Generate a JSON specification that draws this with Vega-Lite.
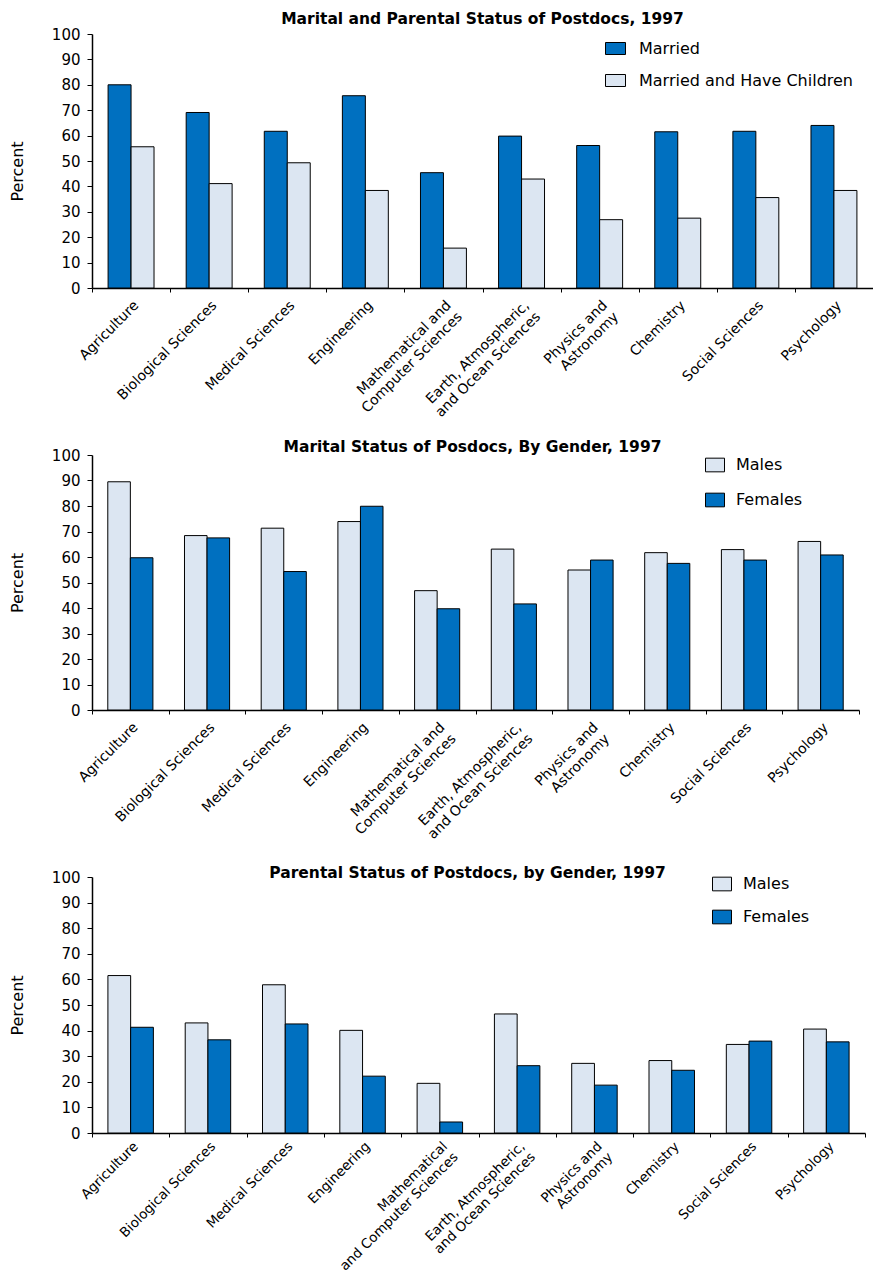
{
  "$schema": "https://vega.github.io/schema/vega-lite/v6.json",
  "padding": {"left": 9, "top": 11, "right": 0, "bottom": 0},
  "background": "white",
  "config": {
    "font": "DejaVu Sans",
    "view": {"stroke": null},
    "axis": {"grid": false, "domainColor": "black", "tickColor": "black", "labelColor": "black", "titleColor": "black", "domainWidth": 1.5},
    "axisY": {"labelFontSize": 15, "tickSize": 5, "labelPadding": 7, "titleFontSize": 16, "titleFontWeight": "normal", "titlePadding": 26},
    "axisX": {"labelFontSize": 14, "labelAngle": -45, "tickBand": "extent", "tickSize": 4, "labelPadding": 6, "labelLineHeight": 16},
    "legend": {"orient": "none", "title": null, "padding": 0, "labelFontSize": 16, "labelColor": "black", "labelLimit": 0, "symbolStrokeColor": "black", "symbolStrokeWidth": 1, "symbolOpacity": 1},
    "title": {"fontSize": 15.5, "fontWeight": "bold", "color": "black", "anchor": "middle", "baseline": "alphabetic"}
  },
  "resolve": {
    "scale": {"x": "independent", "xOffset": "independent", "y": "independent", "color": "independent"},
    "legend": {"color": "independent"}
  },
  "datasets": {
    "marital_parental": [
      {"field": "Agriculture", "group": "Married", "percent": 80.0},
      {"field": "Agriculture", "group": "Married and Have Children", "percent": 55.6},
      {"field": "Biological Sciences", "group": "Married", "percent": 69.1},
      {"field": "Biological Sciences", "group": "Married and Have Children", "percent": 41.1},
      {"field": "Medical Sciences", "group": "Married", "percent": 61.7},
      {"field": "Medical Sciences", "group": "Married and Have Children", "percent": 49.3},
      {"field": "Engineering", "group": "Married", "percent": 75.7},
      {"field": "Engineering", "group": "Married and Have Children", "percent": 38.4},
      {"field": "Mathematical and Computer Sciences", "group": "Married", "percent": 45.4},
      {"field": "Mathematical and Computer Sciences", "group": "Married and Have Children", "percent": 15.7},
      {"field": "Earth, Atmospheric, and Ocean Sciences", "group": "Married", "percent": 59.8},
      {"field": "Earth, Atmospheric, and Ocean Sciences", "group": "Married and Have Children", "percent": 42.9},
      {"field": "Physics and Astronomy", "group": "Married", "percent": 56.1},
      {"field": "Physics and Astronomy", "group": "Married and Have Children", "percent": 26.9},
      {"field": "Chemistry", "group": "Married", "percent": 61.5},
      {"field": "Chemistry", "group": "Married and Have Children", "percent": 27.5},
      {"field": "Social Sciences", "group": "Married", "percent": 61.7},
      {"field": "Social Sciences", "group": "Married and Have Children", "percent": 35.6},
      {"field": "Psychology", "group": "Married", "percent": 64.0},
      {"field": "Psychology", "group": "Married and Have Children", "percent": 38.4}
    ],
    "marital_gender": [
      {"field": "Agriculture", "group": "Males", "percent": 89.5},
      {"field": "Agriculture", "group": "Females", "percent": 59.7},
      {"field": "Biological Sciences", "group": "Males", "percent": 68.4},
      {"field": "Biological Sciences", "group": "Females", "percent": 67.5},
      {"field": "Medical Sciences", "group": "Males", "percent": 71.3},
      {"field": "Medical Sciences", "group": "Females", "percent": 54.3},
      {"field": "Engineering", "group": "Males", "percent": 73.9},
      {"field": "Engineering", "group": "Females", "percent": 79.9},
      {"field": "Mathematical and Computer Sciences", "group": "Males", "percent": 46.8},
      {"field": "Mathematical and Computer Sciences", "group": "Females", "percent": 39.7},
      {"field": "Earth, Atmospheric, and Ocean Sciences", "group": "Males", "percent": 63.1},
      {"field": "Earth, Atmospheric, and Ocean Sciences", "group": "Females", "percent": 41.6},
      {"field": "Physics and Astronomy", "group": "Males", "percent": 54.9},
      {"field": "Physics and Astronomy", "group": "Females", "percent": 58.8},
      {"field": "Chemistry", "group": "Males", "percent": 61.7},
      {"field": "Chemistry", "group": "Females", "percent": 57.5},
      {"field": "Social Sciences", "group": "Males", "percent": 62.9},
      {"field": "Social Sciences", "group": "Females", "percent": 58.8},
      {"field": "Psychology", "group": "Males", "percent": 66.1},
      {"field": "Psychology", "group": "Females", "percent": 60.8}
    ],
    "parental_gender": [
      {"field": "Agriculture", "group": "Males", "percent": 61.5},
      {"field": "Agriculture", "group": "Females", "percent": 41.3},
      {"field": "Biological Sciences", "group": "Males", "percent": 43.0},
      {"field": "Biological Sciences", "group": "Females", "percent": 36.4},
      {"field": "Medical Sciences", "group": "Males", "percent": 57.9},
      {"field": "Medical Sciences", "group": "Females", "percent": 42.6},
      {"field": "Engineering", "group": "Males", "percent": 40.1},
      {"field": "Engineering", "group": "Females", "percent": 22.2},
      {"field": "Mathematical and Computer Sciences", "group": "Males", "percent": 19.4},
      {"field": "Mathematical and Computer Sciences", "group": "Females", "percent": 4.3},
      {"field": "Earth, Atmospheric, and Ocean Sciences", "group": "Males", "percent": 46.5},
      {"field": "Earth, Atmospheric, and Ocean Sciences", "group": "Females", "percent": 26.3},
      {"field": "Physics and Astronomy", "group": "Males", "percent": 27.2},
      {"field": "Physics and Astronomy", "group": "Females", "percent": 18.7},
      {"field": "Chemistry", "group": "Males", "percent": 28.3},
      {"field": "Chemistry", "group": "Females", "percent": 24.5},
      {"field": "Social Sciences", "group": "Males", "percent": 34.6},
      {"field": "Social Sciences", "group": "Females", "percent": 35.9},
      {"field": "Psychology", "group": "Males", "percent": 40.6},
      {"field": "Psychology", "group": "Females", "percent": 35.6}
    ]
  },
  "vconcat": [
    {
      "width": 781,
      "height": 254,
      "title": {"text": "Marital and Parental Status of Postdocs, 1997", "offset": 0},
      "data": {"name": "marital_parental"},
      "mark": {"type": "bar", "stroke": "black", "strokeWidth": 1},
      "encoding": {
        "x": {
          "field": "field", "type": "nominal", "title": null,
          "sort": ["Agriculture", "Biological Sciences", "Medical Sciences", "Engineering", "Mathematical and Computer Sciences", "Earth, Atmospheric, and Ocean Sciences", "Physics and Astronomy", "Chemistry", "Social Sciences", "Psychology"],
          "scale": {"paddingInner": 0, "paddingOuter": 0},
          "axis": {"labelExpr": "datum.value == 'Mathematical and Computer Sciences' ? ['Mathematical and', 'Computer Sciences'] : datum.value == 'Earth, Atmospheric, and Ocean Sciences' ? ['Earth, Atmospheric,', 'and Ocean Sciences'] : datum.value == 'Physics and Astronomy' ? ['Physics and', 'Astronomy'] : datum.label"}
        },
        "xOffset": {"field": "group", "type": "nominal", "sort": ["Married", "Married and Have Children"], "scale": {"paddingInner": 0, "paddingOuter": 0.7}},
        "y": {"field": "percent", "type": "quantitative", "title": "Percent", "scale": {"domain": [0, 100], "nice": false}, "axis": {"values": [0, 10, 20, 30, 40, 50, 60, 70, 80, 90, 100], "titleY": 137}},
        "color": {
          "field": "group", "type": "nominal",
          "scale": {"domain": ["Married", "Married and Have Children"], "range": ["#0070c0", "#dce6f2"]},
          "legend": {"legendX": 513, "legendY": 4, "symbolType": "M-1,-0.6H1V0.6H-1Z", "symbolSize": 400, "labelOffset": 13, "rowPadding": 13}
        }
      }
    },
    {
      "width": 767,
      "height": 255,
      "title": {"text": "Marital Status of Posdocs, By Gender, 1997", "offset": -7, "dx": -3},
      "data": {"name": "marital_gender"},
      "mark": {"type": "bar", "stroke": "black", "strokeWidth": 1},
      "encoding": {
        "x": {
          "field": "field", "type": "nominal", "title": null,
          "sort": ["Agriculture", "Biological Sciences", "Medical Sciences", "Engineering", "Mathematical and Computer Sciences", "Earth, Atmospheric, and Ocean Sciences", "Physics and Astronomy", "Chemistry", "Social Sciences", "Psychology"],
          "scale": {"paddingInner": 0, "paddingOuter": 0},
          "axis": {"labelExpr": "datum.value == 'Mathematical and Computer Sciences' ? ['Mathematical and', 'Computer Sciences'] : datum.value == 'Earth, Atmospheric, and Ocean Sciences' ? ['Earth, Atmospheric,', 'and Ocean Sciences'] : datum.value == 'Physics and Astronomy' ? ['Physics and', 'Astronomy'] : datum.label"}
        },
        "xOffset": {"field": "group", "type": "nominal", "sort": ["Males", "Females"], "scale": {"paddingInner": 0, "paddingOuter": 0.7}},
        "y": {"field": "percent", "type": "quantitative", "title": "Percent", "scale": {"domain": [0, 100], "nice": false}, "axis": {"values": [0, 10, 20, 30, 40, 50, 60, 70, 80, 90, 100]}},
        "color": {
          "field": "group", "type": "nominal",
          "scale": {"domain": ["Males", "Females"], "range": ["#dce6f2", "#0070c0"]},
          "legend": {"legendX": 613, "legendY": 0, "symbolType": "M-1,-0.72H1V0.72H-1Z", "symbolSize": 361, "labelOffset": 11, "rowPadding": 16}
        }
      }
    },
    {
      "width": 773,
      "height": 256,
      "title": {"text": "Parental Status of Postdocs, by Gender, 1997", "offset": -11, "dx": -11},
      "data": {"name": "parental_gender"},
      "mark": {"type": "bar", "stroke": "black", "strokeWidth": 1},
      "encoding": {
        "x": {
          "field": "field", "type": "nominal", "title": null,
          "sort": ["Agriculture", "Biological Sciences", "Medical Sciences", "Engineering", "Mathematical and Computer Sciences", "Earth, Atmospheric, and Ocean Sciences", "Physics and Astronomy", "Chemistry", "Social Sciences", "Psychology"],
          "scale": {"paddingInner": 0, "paddingOuter": 0},
          "axis": {"labelPadding": 2, "labelFontSize": 13.5, "labelLineHeight": 15, "labelExpr": "datum.value == 'Mathematical and Computer Sciences' ? ['Mathematical', 'and Computer Sciences'] : datum.value == 'Earth, Atmospheric, and Ocean Sciences' ? ['Earth, Atmospheric,', 'and Ocean Sciences'] : datum.value == 'Physics and Astronomy' ? ['Physics and', 'Astronomy'] : datum.label"}
        },
        "xOffset": {"field": "group", "type": "nominal", "sort": ["Males", "Females"], "scale": {"paddingInner": 0, "paddingOuter": 0.7}},
        "y": {"field": "percent", "type": "quantitative", "title": "Percent", "scale": {"domain": [0, 100], "nice": false}, "axis": {"values": [0, 10, 20, 30, 40, 50, 60, 70, 80, 90, 100]}},
        "color": {
          "field": "group", "type": "nominal",
          "scale": {"domain": ["Males", "Females"], "range": ["#dce6f2", "#0070c0"]},
          "legend": {"legendX": 620, "legendY": -3, "symbolType": "M-1,-0.72H1V0.72H-1Z", "symbolSize": 361, "labelOffset": 11, "rowPadding": 14}
        }
      }
    }
  ],
  "spacing": 167,
  "bounds": "flush"
}
